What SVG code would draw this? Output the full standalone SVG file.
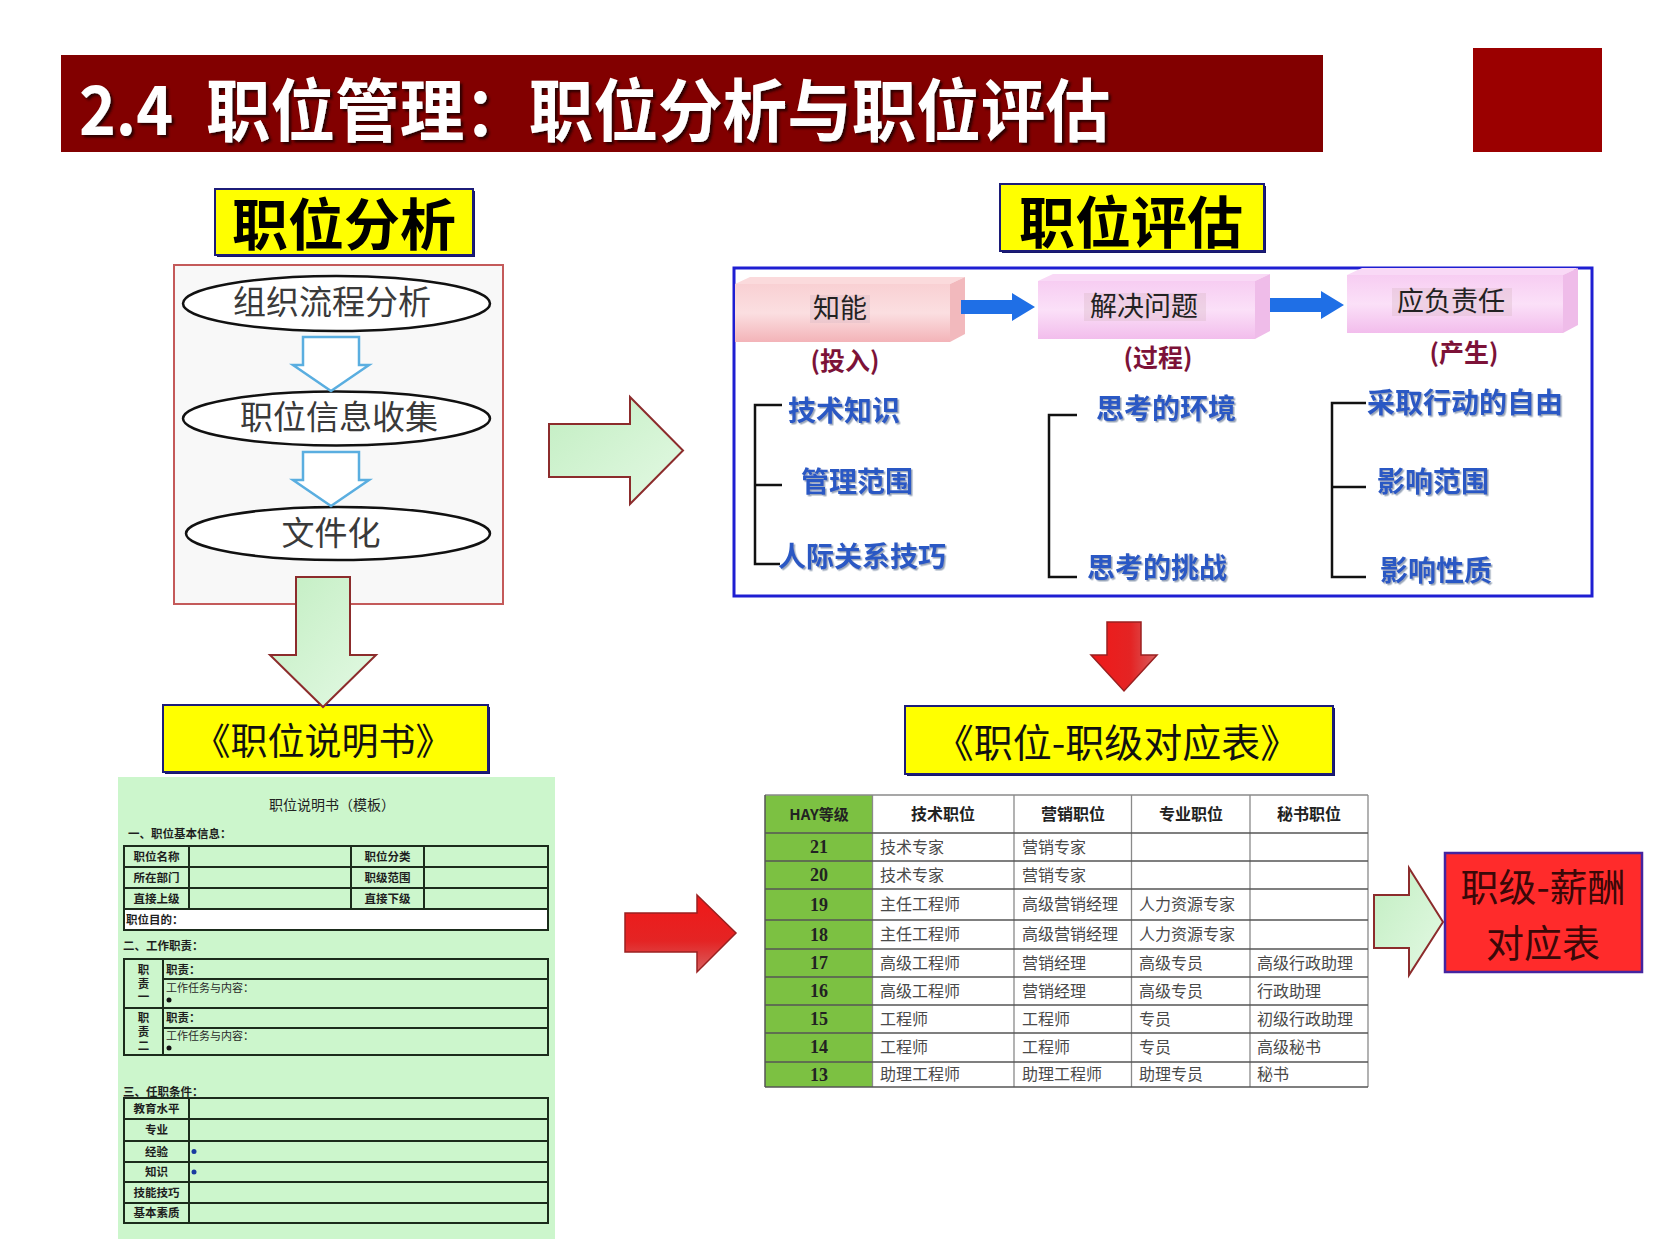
<svg xmlns="http://www.w3.org/2000/svg" width="1653" height="1239" viewBox="0 0 1653 1239">
<defs>
<style>
text { font-family: "Noto Sans CJK SC", "Noto Sans", sans-serif; }
.hdr { font-weight: bold; fill: #000; text-anchor: middle; }
.ell { fill: #3a3a3a; font-size: 33px; text-anchor: middle; }
.yb { fill: #ffff00; stroke: #1c1c78; stroke-width: 2; }
.ybs { fill: #16166a; }
.garrow { fill: url(#gGreen); stroke: #8c2c2c; stroke-width: 2; }
.harrow { fill: #fff; stroke: #5aaee0; stroke-width: 2.5; }
.ellipse { fill: #fff; stroke: #111; stroke-width: 2.5; }
.item { fill: #2a58c4; font-size: 28px; font-weight: bold; filter: url(#sh); }
.paren { fill: #7c1238; font-size: 25px; font-weight: bold; text-anchor: middle; }
.br { fill: none; stroke: #111; stroke-width: 2.5; }
.blk { font-size: 27px; fill: #222; text-anchor: middle; }
.tbg { fill: #d8b8c4; opacity: 0.35; }
.d { font-size: 11.5px; fill: #1e1e1e; font-weight: bold; }
.dl { font-size: 11.5px; fill: #1e1e1e; font-weight: bold; text-anchor: middle; }
.dn { font-size: 11px; fill: #2a2a2a; }
.tl { fill: none; stroke: #1b2b1b; stroke-width: 2; }
.ht { font-size: 16px; fill: #222; font-weight: bold; text-anchor: middle; }
.ct { font-size: 16px; fill: #4a4a4a; }
.num { font-family: "Liberation Serif", serif; font-size: 18px; font-weight: bold; fill: #222; text-anchor: middle; }
.grid { stroke: #8a8a8a; stroke-width: 1.3; fill: none; }
.hgrid { stroke: #555; stroke-width: 1.5; fill: none; }
.barrow { fill: #1f6fe6; }
.sal { font-size: 38px; fill: #3a0808; text-anchor: middle; }
</style>
<linearGradient id="gGreen" x1="0" y1="0" x2="1" y2="1">
<stop offset="0" stop-color="#c2eec2"/>
<stop offset="1" stop-color="#e4f9e4"/>
</linearGradient>
<linearGradient id="gRed" x1="0" y1="0" x2="0" y2="1">
<stop offset="0" stop-color="#f01818"/>
<stop offset="0.6" stop-color="#e42424"/>
<stop offset="1" stop-color="#d86060"/>
</linearGradient>
<linearGradient id="gRedH" x1="0" y1="0" x2="1" y2="0">
<stop offset="0" stop-color="#f01818"/>
<stop offset="0.6" stop-color="#e42424"/>
<stop offset="1" stop-color="#d86060"/>
</linearGradient>
<linearGradient id="gPink1" x1="0" y1="0" x2="0" y2="1">
<stop offset="0" stop-color="#f9d0d3"/>
<stop offset="0.5" stop-color="#fbdfe1"/>
<stop offset="1" stop-color="#f3b3b8"/>
</linearGradient>
<linearGradient id="gPink2" x1="0" y1="0" x2="0" y2="1">
<stop offset="0" stop-color="#f7cdf2"/>
<stop offset="0.5" stop-color="#fbe0f8"/>
<stop offset="1" stop-color="#f2bdec"/>
</linearGradient>
<filter id="tsh" x="-5%" y="-20%" width="110%" height="140%">
<feDropShadow dx="2.5" dy="2.5" stdDeviation="0.8" flood-color="#220000" flood-opacity="0.9"/>
</filter>
<filter id="sh" x="-10%" y="-30%" width="120%" height="160%">
<feDropShadow dx="1.5" dy="1.5" stdDeviation="0.7" flood-color="#8090a8" flood-opacity="0.8"/>
</filter>
</defs>

<rect width="1653" height="1239" fill="#ffffff"/>

<!-- Title -->
<g id="title">
<rect x="61" y="55" width="1262" height="97" fill="#820000"/>
<rect x="1473" y="48" width="129" height="104" fill="#9b0000"/>
<text x="79" y="135" font-size="68" font-weight="bold" fill="#ffffff" filter="url(#tsh)" textLength="94" lengthAdjust="spacingAndGlyphs">2.4</text>
<text x="206" y="136" font-size="68" font-weight="bold" fill="#ffffff" filter="url(#tsh)" textLength="904" lengthAdjust="spacingAndGlyphs">职位管理：职位分析与职位评估</text>
</g>

<!-- Left: 职位分析 -->
<g id="node-analysis-title">
<rect class="ybs" x="217" y="191" width="258" height="66"/>
<rect class="yb" x="215" y="189" width="258" height="66"/>
<text class="hdr" x="344" y="245" font-size="56">职位分析</text>
</g>

<g id="node-analysis-box">
<rect x="174" y="265" width="329" height="339" fill="#f8f8f8" stroke="#c45a5a" stroke-width="2"/>
</g>

<g id="node-step1">
<ellipse class="ellipse" cx="336.5" cy="303.5" rx="153.5" ry="27.5"/>
<text class="ell" x="332" y="314">组织流程分析</text>
</g>
<g id="node-step2">
<ellipse class="ellipse" cx="336.5" cy="418.5" rx="153.5" ry="27"/>
<text class="ell" x="339" y="429">职位信息收集</text>
</g>
<g id="node-step3">
<ellipse class="ellipse" cx="338" cy="533.5" rx="152" ry="26.5"/>
<text class="ell" x="331" y="545">文件化</text>
</g>

<g id="node-jd-title">
<rect class="ybs" x="165" y="707" width="325" height="67"/>
<rect class="yb" x="163" y="705" width="325" height="67"/>
<text x="323" y="755" font-size="37" fill="#111" text-anchor="middle">《职位说明书》</text>
</g>

<!-- Document template -->
<g id="node-jd-doc">
<rect x="118" y="777" width="437" height="462" fill="#ccf6cc"/>
<text x="332" y="810" font-size="14" fill="#222" text-anchor="middle">职位说明书（模板）</text>
<text class="d" x="128" y="838" font-weight="normal">一、职位基本信息：</text>
<rect x="124" y="909" width="424" height="21" fill="#ffffff"/>
<rect class="tl" x="124" y="846" width="424" height="84"/>
<path class="tl" d="M124,867 H548 M124,888 H548 M124,909 H548 M189,846 V909 M351,846 V909 M424,846 V909"/>
<text class="dl" x="156.5" y="861">职位名称</text>
<text class="dl" x="387.5" y="861">职位分类</text>
<text class="dl" x="156.5" y="882">所在部门</text>
<text class="dl" x="387.5" y="882">职级范围</text>
<text class="dl" x="156.5" y="903">直接上级</text>
<text class="dl" x="387.5" y="903">直接下级</text>
<text class="d" x="126" y="924">职位目的：</text>
<text class="d" x="123" y="950">二、工作职责：</text>
<rect class="tl" x="124" y="959" width="424" height="96"/>
<path class="tl" d="M163,979 H548 M124,1008 H548 M163,1028 H548 M163,959 V1055"/>
<text class="dl" x="143.5" y="974">职</text>
<text class="dl" x="143.5" y="988">责</text>
<text class="dl" x="143.5" y="1001">一</text>
<text class="dl" x="143.5" y="1022">职</text>
<text class="dl" x="143.5" y="1036">责</text>
<text class="dl" x="143.5" y="1050">二</text>
<text class="d" x="166" y="974">职责：</text>
<text class="dn" x="166" y="992">工作任务与内容：</text>
<circle cx="169" cy="1000" r="2.5" fill="#111"/>
<text class="d" x="166" y="1022">职责：</text>
<text class="dn" x="166" y="1040">工作任务与内容：</text>
<circle cx="169" cy="1048" r="2.5" fill="#111"/>
<text class="d" x="123" y="1096">三、任职条件：</text>
<rect class="tl" x="124" y="1098" width="424" height="125"/>
<path class="tl" d="M124,1119 H548 M124,1141 H548 M124,1162 H548 M124,1182 H548 M124,1203 H548 M189,1098 V1223"/>
<text class="dl" x="156.5" y="1113">教育水平</text>
<text class="dl" x="156.5" y="1134">专业</text>
<text class="dl" x="156.5" y="1156">经验</text>
<text class="dl" x="156.5" y="1176">知识</text>
<text class="dl" x="156.5" y="1197">技能技巧</text>
<text class="dl" x="156.5" y="1217">基本素质</text>
<circle cx="194" cy="1151.5" r="2.5" fill="#1a3aa0"/>
<circle cx="194" cy="1172" r="2.5" fill="#1a3aa0"/>
</g>

<!-- Right: 职位评估 -->
<g id="node-eval-title">
<rect class="ybs" x="1002" y="186" width="264" height="67"/>
<rect class="yb" x="1000" y="184" width="264" height="67"/>
<text class="hdr" x="1131" y="243" font-size="56">职位评估</text>
</g>

<g id="node-eval-panel">
<rect x="734" y="268" width="858" height="328" fill="#ffffff" stroke="#1e1ed2" stroke-width="3"/>
</g>

<g id="node-block1">
<rect x="735" y="284" width="215" height="58" fill="url(#gPink1)"/>
<polygon points="735,284 750,277 965,277 950,284" fill="#fbdadc"/>
<polygon points="950,284 965,277 965,334 950,342" fill="#f2b9bd"/>
<rect class="tbg" x="810" y="295" width="60" height="28"/>
<text class="blk" x="840" y="318">知能</text>
</g>
<g id="node-block2">
<rect x="1038" y="281" width="217" height="58" fill="url(#gPink2)"/>
<polygon points="1038,281 1053,274 1270,274 1255,281" fill="#f9d9f6"/>
<polygon points="1255,281 1270,274 1270,331 1255,339" fill="#efbce9"/>
<rect class="tbg" x="1084" y="293" width="122" height="28"/>
<text class="blk" x="1144" y="316">解决问题</text>
</g>
<g id="node-block3">
<rect x="1347" y="275" width="216" height="58" fill="url(#gPink2)"/>
<polygon points="1347,275 1362,268 1578,268 1563,275" fill="#f9d9f6"/>
<polygon points="1563,275 1578,268 1578,325 1563,333" fill="#efbce9"/>
<rect class="tbg" x="1392" y="288" width="120" height="28"/>
<text class="blk" x="1451" y="311">应负责任</text>
</g>

<g id="node-input">
<text class="paren" x="845" y="370">(投入)</text>
<path class="br" d="M782,405 H755 V564 H780 M755,485 H782"/>
<text class="item" x="788" y="421">技术知识</text>
<text class="item" x="801" y="492">管理范围</text>
<text class="item" x="778" y="567">人际关系技巧</text>
</g>

<g id="node-process">
<text class="paren" x="1158" y="367">(过程)</text>
<path class="br" d="M1077,415 H1049 V577 H1077"/>
<text class="item" x="1096" y="419">思考的环境</text>
<text class="item" x="1087" y="578">思考的挑战</text>
</g>

<g id="node-output">
<text class="paren" x="1464" y="362">(产生)</text>
<path class="br" d="M1366,403 H1332 V577 H1366 M1332,487 H1366"/>
<text class="item" x="1367" y="413">采取行动的自由</text>
<text class="item" x="1377" y="492">影响范围</text>
<text class="item" x="1380" y="581">影响性质</text>
</g>

<g id="node-grade-title">
<rect class="ybs" x="907" y="708" width="428" height="68"/>
<rect class="yb" x="905" y="706" width="428" height="68"/>
<text x="1117" y="757" font-size="39" fill="#111" text-anchor="middle">《职位-职级对应表》</text>
</g>

<!-- HAY table -->
<g id="node-hay-table">
<rect x="765" y="795" width="107.5" height="292" fill="#7cc142"/>
<rect x="872.5" y="795" width="495.5" height="292" fill="#ffffff"/>
<path class="grid" d="M872.5,795 V1087 M1014,795 V1087 M1131.5,795 V1087 M1250,795 V1087 M1368,795 V1087 M765,795 H1368"/>
<path class="hgrid" d="M765,833 H1368 M765,861 H1368 M765,889 H1368 M765,920 H1368 M765,949 H1368 M765,977 H1368 M765,1005 H1368 M765,1033 H1368 M765,1062 H1368 M765,1087 H1368 M765,795 V1087"/>
<text x="819" y="820" font-size="15" font-weight="bold" fill="#222" text-anchor="middle" font-family="Liberation Serif, Noto Sans CJK SC, serif">HAY等级</text>
<text class="ht" x="943" y="820">技术职位</text>
<text class="ht" x="1073" y="820">营销职位</text>
<text class="ht" x="1191" y="820">专业职位</text>
<text class="ht" x="1309" y="820">秘书职位</text>
<text class="num" x="819" y="853">21</text>
<text class="num" x="819" y="881">20</text>
<text class="num" x="819" y="911">19</text>
<text class="num" x="819" y="941">18</text>
<text class="num" x="819" y="969">17</text>
<text class="num" x="819" y="997">16</text>
<text class="num" x="819" y="1025">15</text>
<text class="num" x="819" y="1053">14</text>
<text class="num" x="819" y="1081">13</text>
<text class="ct" x="880" y="853">技术专家</text>
<text class="ct" x="1022" y="853">营销专家</text>
<text class="ct" x="880" y="881">技术专家</text>
<text class="ct" x="1022" y="881">营销专家</text>
<text class="ct" x="880" y="910">主任工程师</text>
<text class="ct" x="1022" y="910">高级营销经理</text>
<text class="ct" x="1139" y="910">人力资源专家</text>
<text class="ct" x="880" y="940">主任工程师</text>
<text class="ct" x="1022" y="940">高级营销经理</text>
<text class="ct" x="1139" y="940">人力资源专家</text>
<text class="ct" x="880" y="969">高级工程师</text>
<text class="ct" x="1022" y="969">营销经理</text>
<text class="ct" x="1139" y="969">高级专员</text>
<text class="ct" x="1257" y="969">高级行政助理</text>
<text class="ct" x="880" y="997">高级工程师</text>
<text class="ct" x="1022" y="997">营销经理</text>
<text class="ct" x="1139" y="997">高级专员</text>
<text class="ct" x="1257" y="997">行政助理</text>
<text class="ct" x="880" y="1025">工程师</text>
<text class="ct" x="1022" y="1025">工程师</text>
<text class="ct" x="1139" y="1025">专员</text>
<text class="ct" x="1257" y="1025">初级行政助理</text>
<text class="ct" x="880" y="1053">工程师</text>
<text class="ct" x="1022" y="1053">工程师</text>
<text class="ct" x="1139" y="1053">专员</text>
<text class="ct" x="1257" y="1053">高级秘书</text>
<text class="ct" x="880" y="1080">助理工程师</text>
<text class="ct" x="1022" y="1080">助理工程师</text>
<text class="ct" x="1139" y="1080">助理专员</text>
<text class="ct" x="1257" y="1080">秘书</text>
</g>

<g id="node-salary">
<rect x="1445" y="853" width="197" height="119" fill="#ff2b2b" stroke="#4424a0" stroke-width="2.5"/>
<text class="sal" x="1543" y="901">职级-薪酬</text>
<text class="sal" x="1543" y="957">对应表</text>
</g>

<!-- Connectors / arrows (drawn on top) -->
<g id="connectors">
<path class="harrow" d="M303,337 H359 V365 H369 L331,391 L293,365 H303 Z"/>
<path class="harrow" d="M303,452 H359 V480 H369 L331,506 L293,480 H303 Z"/>
<path class="garrow" d="M296,577 H350 V655 H376 L323,707 L270,655 H296 Z"/>
<path class="garrow" d="M549,424 H630 V397 L683,450.5 L630,504 V477 H549 Z"/>
<path class="barrow" d="M961,300 H1012 V293 L1035,307 L1012,321 V314 H961 Z"/>
<path class="barrow" d="M1270,298 H1321 V291 L1344,305 L1321,319 V312 H1270 Z"/>
<path d="M1107,622 H1141 V655 H1157 L1124,691 L1091,655 H1107 Z" fill="url(#gRedH)" stroke="#9a2020" stroke-width="1.5"/>
<path d="M625,913 H697 V895 L736,933 L697,972 V952 H625 Z" fill="url(#gRed)" stroke="#9a2020" stroke-width="1.5"/>
<path class="garrow" d="M1374,895 H1409 V868 L1443,922 L1409,975 V948 H1374 Z"/>
</g>
</svg>
